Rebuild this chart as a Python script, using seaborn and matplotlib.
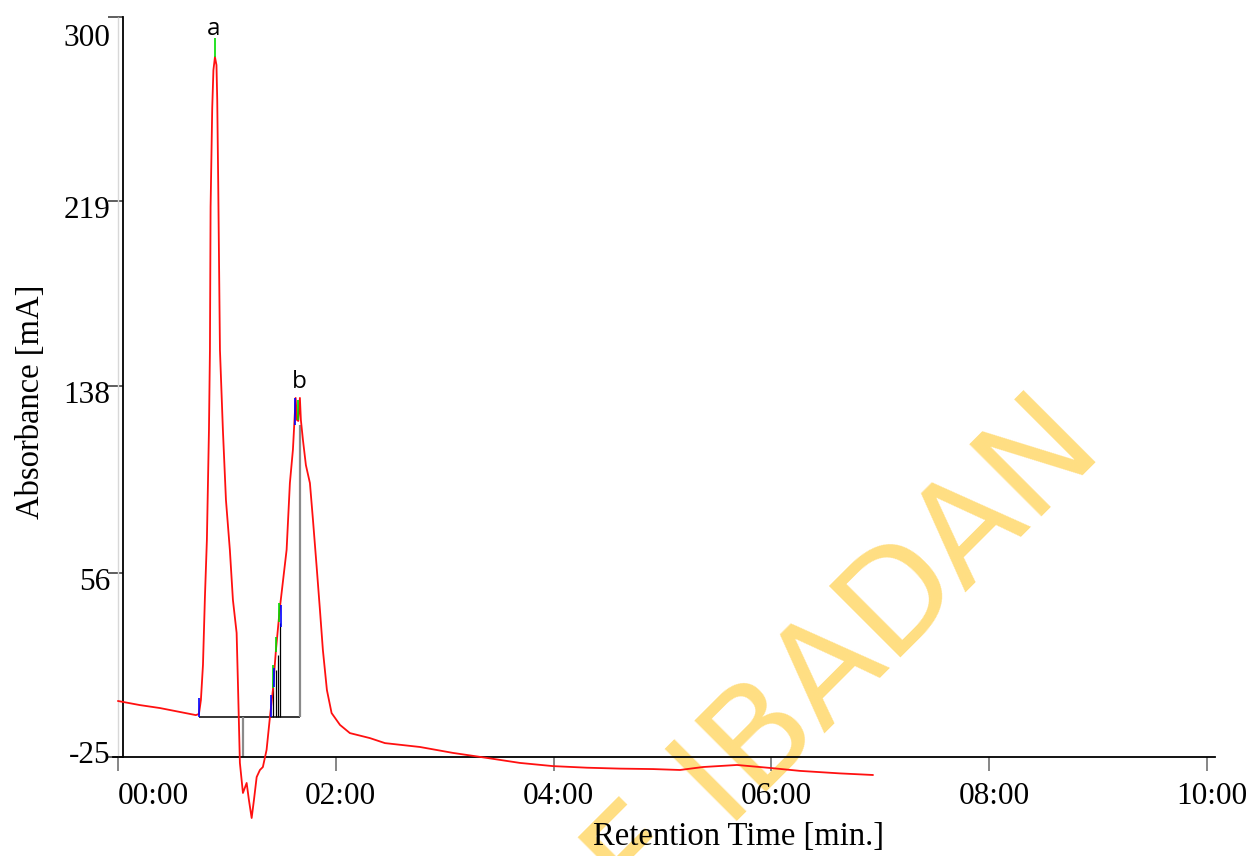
import matplotlib
matplotlib.use('Agg')
import matplotlib.pyplot as plt
import matplotlib.transforms as mtransforms
import seaborn as sns

# --- Data ---
time_min = [
    0.000, 0.202, 0.386, 0.716, 0.744, 0.762, 0.781, 0.799, 0.817, 0.836,
    0.845, 0.851, 0.866, 0.877, 0.891, 0.905, 0.912, 0.921, 0.937, 0.964,
    0.992, 1.028, 1.056, 1.090, 1.102, 1.120, 1.148, 1.182, 1.203, 1.228,
    1.249, 1.274, 1.304, 1.331, 1.365, 1.396, 1.423, 1.451, 1.488, 1.515,
    1.549, 1.579, 1.607, 1.632, 1.644, 1.656, 1.671, 1.680, 1.699, 1.726,
    1.763, 1.791, 1.825, 1.855, 1.882, 1.919, 1.962, 2.039, 2.130, 2.314,
    2.452, 2.773, 3.076, 3.388, 3.691, 3.994, 4.307, 4.610, 4.913, 5.161,
    5.372, 5.684, 5.987, 6.263, 6.630, 6.933,
]
absorbance_mA = [
    -0.4, -2.2, -3.5, -6.6, -6.1, 0.0, 15.4, 45.3, 70.3, 118.6,
    153.7, 216.5, 260.0, 276.7, 282.4, 278.9, 263.5, 227.1, 153.7, 118.6,
    87.9, 65.9, 44.0, 29.5, 7.5, -27.6, -40.8, -36.4, -43.9, -51.8,
    -43.9, -33.8, -30.7, -29.4, -21.9, -7.4, 4.4, 22.0, 40.9, 52.0,
    66.0, 95.3, 110.0, 132.7, 123.0, 122.6, 132.7, 123.0, 114.2, 103.2,
    95.3, 79.1, 58.4, 39.6, 22.0, 4.4, -5.7, -10.9, -14.5, -16.7,
    -18.9, -20.6, -23.2, -25.4, -27.6, -29.0, -29.7, -30.1, -30.3, -30.7,
    -29.4, -28.5, -29.8, -31.1, -32.2, -32.9,
]

# integration baseline and drop lines
baseline_t = [0.744, 1.671]
baseline_v = -7.4
drop_black_t = [1.426, 1.451, 1.469, 1.490]
drop_black_top = [5.9, 13.2, 19.8, 33.7]
drop_grey_t = [1.148, 1.671]
drop_grey_end = [-25.0, 120.8]

# peak event marks: (time, low, high, colour)
marks_t = [0.744, 0.893, 1.402, 1.421, 1.435, 1.451, 1.481, 1.494, 1.629, 1.656]
marks_lo = [-7.4, 282.4, -7.4, 5.3, 5.7, 21.1, 34.3, 32.1, 120.8, 123.0]
marks_hi = [0.9, 290.8, 2.2, 15.4, 14.1, 27.7, 42.6, 41.8, 132.7, 131.8]
marks_c = ['#0000ff', '#00dd00', '#0000ff', '#00dd00', '#0000ff',
           '#00dd00', '#00dd00', '#0000ff', '#0000ff', '#00dd00']

peak_names = ['a', 'b']
peak_label_t = [0.877, 1.662]
peak_label_v = [292.1, 137.1]

y_ticks = [-25, 56, 138, 219, 300]
x_ticks = [0, 2, 4, 6, 8, 10]
x_ticklabels = ['00:00', '02:00', '04:00', '06:00', '08:00', '10:00']

SERIF = 'Liberation Serif'
WATERMARK = '#FFDE82'

sns.set_style('ticks')
plt.rcParams['font.family'] = [SERIF, 'DejaVu Serif']
plt.rcParams['text.color'] = 'black'
plt.rcParams['axes.labelcolor'] = 'black'
plt.rcParams['xtick.labelcolor'] = 'black'
plt.rcParams['ytick.labelcolor'] = 'black'

fig = plt.figure(figsize=(12.56, 8.56), dpi=100)
ax = fig.add_axes([0.08997, 0.02255, 0.87739, 0.9576])
ax.set_xlim(-0.045, 10.073)
ax.set_ylim(-60, 300)

# watermark behind everything
ax.text(1106 / 1256, 1 - 452 / 856, 'UNIVERSITY OF IBADAN',
        transform=fig.transFigure,
        rotation=45, rotation_mode='anchor', ha='right', va='baseline',
        fontsize=100, color=WATERMARK,
        family=['Liberation Sans Narrow', 'DejaVu Sans'], zorder=0.3,
        clip_on=False)

# faint zero line
ax.vlines(0, -25, 300, color='#d8d8d8', lw=1, zorder=1)

# integration lines
ax.hlines(baseline_v, baseline_t[0], baseline_t[1], color='black', lw=1.1, zorder=2)
ax.vlines(drop_black_t, baseline_v, drop_black_top, color='black', lw=0.9, zorder=2)
ax.vlines(drop_grey_t, baseline_v, drop_grey_end, color='#8a8a8a', lw=1.6, zorder=2)

# chromatogram trace
sns.lineplot(x=time_min, y=absorbance_mA, sort=False, estimator=None,
             color='#ff1010', lw=1.3, ax=ax, zorder=3, clip_on=False)

for t, lo, hi, c in zip(marks_t, marks_lo, marks_hi, marks_c):
    ax.vlines(t, lo, hi, color=c, lw=1.2, zorder=4)

for name, t, v in zip(peak_names, peak_label_t, peak_label_v):
    ax.text(t, v, name, ha='center', va='baseline', fontsize=17.5,
            family='Open Sans', color='black', zorder=5)

# axes styling: chromatography-software look
for side in ['top', 'right']:
    ax.spines[side].set_visible(False)
ax.spines['left'].set_position(('data', 0.046))
ax.spines['left'].set_bounds(-25, 300)
ax.spines['bottom'].set_position(('data', -25))
for side in ['left', 'bottom']:
    ax.spines[side].set_color('black')
    ax.spines[side].set_linewidth(1.3)

ax.set_yticks(y_ticks)
ax.set_yticklabels([str(v) for v in y_ticks])
ax.set_xticks(x_ticks)
ax.set_xticklabels(x_ticklabels)
ax.tick_params(axis='y', direction='out', length=11, width=1.1, color='#333333',
               pad=-2, labelsize=22.5, labelcolor='black')
ax.tick_params(axis='x', direction='out', length=10, width=1.1, color='#666666',
               pad=8, labelsize=22.5, labelcolor='black')

# label nudges (pixels at 100 dpi)
y_shift = [5, -6, -6, -6, -18]
for lab, dy in zip(ax.get_yticklabels(), y_shift):
    off = mtransforms.ScaledTranslation(0, dy / 100, fig.dpi_scale_trans)
    lab.set_transform(lab.get_transform() + off)
for i, lab in enumerate(ax.get_xticklabels()):
    if i == 0:
        lab.set_ha('left')
    else:
        off = mtransforms.ScaledTranslation(5 / 100, 0, fig.dpi_scale_trans)
        lab.set_transform(lab.get_transform() + off)

ax.set_xlabel('Retention Time [min.]', fontsize=23.5, color='black')
ax.set_ylabel('Absorbance [mA]', fontsize=23.5, color='black')
ax.xaxis.set_label_coords(0.568, 0.018)
ax.yaxis.set_label_coords(-0.0605, 0.531)

fig.savefig('out.png', dpi=100, facecolor='white')
